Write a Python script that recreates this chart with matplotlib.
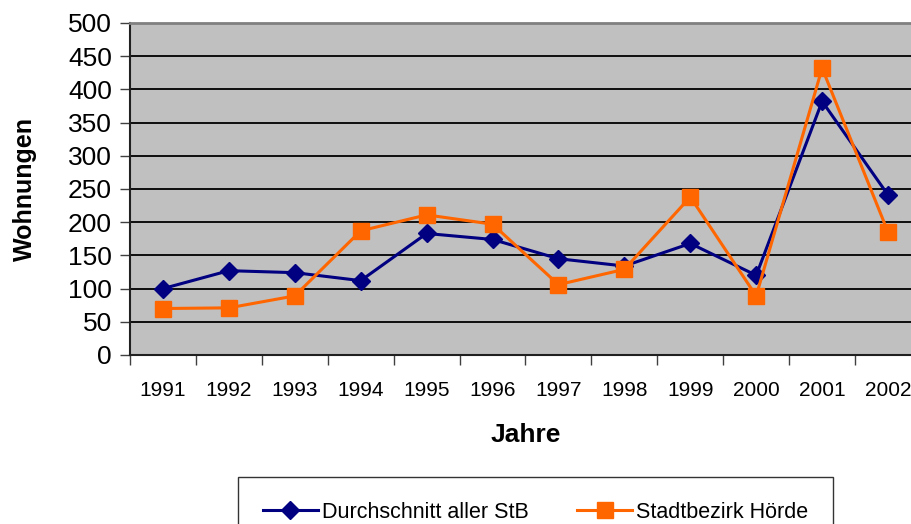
import numpy as np
import matplotlib
matplotlib.use("Agg")
import matplotlib.pyplot as plt

plt.rcParams['font.family'] = ['Liberation Sans', 'DejaVu Sans']

# data
years = ['1991', '1992', '1993', '1994', '1995', '1996',
         '1997', '1998', '1999', '2000', '2001', '2002']
avg_all = [100, 127, 124, 112, 183, 174, 145, 134, 168, 120, 382, 241]
hoerde = [70, 71, 89, 187, 211, 197, 106, 129, 238, 89, 432, 185]

fig = plt.figure(figsize=(9.12, 5.24), dpi=100)
ax = fig.add_axes([130 / 912, 1 - 355 / 524, 791 / 912, 332 / 524])
ax.set_facecolor('#C0C0C0')

x = np.arange(len(years)) + 0.5
ax.plot(x, avg_all, color='#000080', lw=2.2, marker='D', ms=9,
        label='Durchschnitt aller StB', zorder=3)
ax.plot(x, hoerde, color='#FF6600', lw=2.2, marker='s', ms=11.5,
        label='Stadtbezirk Hörde', zorder=4)

ax.set_xlim(0, len(years))
ax.set_ylim(0, 500)
ax.set_yticks(np.arange(0, 501, 50))
ax.yaxis.grid(True, color='black', lw=1.3)
ax.set_axisbelow(True)

# category axis: tick marks between categories, labels centred
ax.set_xticks(np.arange(0, len(years) + 1))
ax.set_xticklabels([])
ax.set_xticks(x, minor=True)
ax.set_xticklabels(years, minor=True, fontsize=15)
ax.tick_params(axis='x', which='major', length=7, width=1, color='#404040', direction='out')
ax.tick_params(axis='x', which='minor', length=0, pad=19)
ax.tick_params(axis='y', length=7, width=1, labelsize=19, pad=6, color='#404040')

for s in ['left', 'bottom']:
    ax.spines[s].set_color('#202020')
    ax.spines[s].set_linewidth(1.5)
ax.spines['top'].set_color('#808080')
ax.spines['top'].set_linewidth(2)
ax.spines['right'].set_visible(False)

ax.set_xlabel('Jahre', fontsize=19, fontweight='bold', labelpad=16)
ax.set_ylabel('Wohnungen', fontsize=18, fontweight='bold', labelpad=22)

leg = fig.legend(loc='upper left', bbox_to_anchor=(238 / 912, 1 - 477 / 524),
                 ncol=2, frameon=True, fancybox=False, fontsize=15.5,
                 handlelength=2.55, columnspacing=2.25, borderpad=1.15,
                 handletextpad=0.2, borderaxespad=0)
leg.get_frame().set_edgecolor('black')
leg.get_frame().set_linewidth(1)

fig.savefig('out.png', dpi=100)
